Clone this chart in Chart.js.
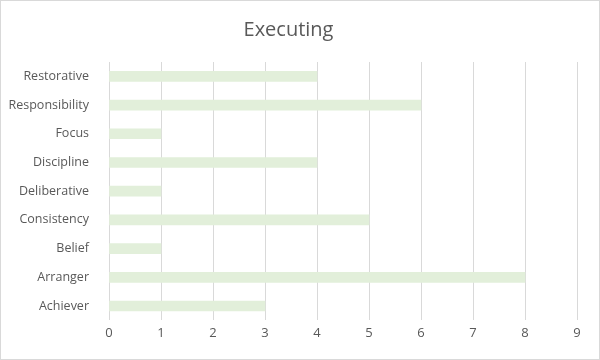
<!DOCTYPE html>
<html>
<head>
<meta charset="utf-8">
<script src="https://cdn.jsdelivr.net/npm/chart.js@4.4.0/dist/chart.umd.min.js"></script>
<style>
  body { margin: 0; background: #fff; }
  #wrap { width: 600px; height: 360px; }
</style>
</head>
<body>
<div id="wrap"><canvas id="chart" width="600" height="360"></canvas></div>
<script>
// data
const categories = ['Restorative', 'Responsibility', 'Focus', 'Discipline', 'Deliberative', 'Consistency', 'Belief', 'Arranger', 'Achiever'];
const counts = [4, 6, 1, 4, 1, 5, 1, 8, 3];
const xTicks = [0, 1, 2, 3, 4, 5, 6, 7, 8, 9];

const frame = {
  id: 'frame',
  beforeDraw(chart) {
    const c = chart.ctx;
    c.save();
    c.fillStyle = '#fff';
    c.fillRect(0, 0, chart.width, chart.height);
    c.strokeStyle = '#d9d9d9';
    c.lineWidth = 1;
    c.strokeRect(0.5, 0.5, chart.width - 1, chart.height - 1);
    c.restore();
  }
};

new Chart(document.getElementById('chart'), {
  type: 'bar',
  data: {
    labels: categories,
    datasets: [{
      data: counts,
      backgroundColor: '#e2efda',
      barThickness: 10
    }]
  },
  plugins: [frame],
  options: {
    indexAxis: 'y',
    responsive: false,
    animation: false,
    layout: { padding: { left: 0, right: 23, top: 18, bottom: 14 } },
    plugins: {
      legend: { display: false },
      tooltip: { enabled: false },
      title: {
        display: true,
        text: 'Executing',
        color: '#595959',
        font: { family: 'Open Sans', size: 20, weight: 'normal' },
        padding: { top: 0, bottom: 20 }
      }
    },
    scales: {
      x: {
        min: 0, max: 9,
        afterBuildTicks(axis) { axis.ticks = xTicks.map(v => ({ value: v })); },
        grid: { color: '#d9d9d9', drawTicks: false },
        border: { display: false },
        ticks: { color: '#595959', padding: 5, font: { family: 'Open Sans', size: 13 } }
      },
      y: {
        afterFit(axis) { axis.width = 109; },
        grid: { display: false },
        border: { display: false },
        ticks: { color: '#595959', padding: 12, font: { family: 'Open Sans', size: 12.5 } }
      }
    }
  }
});
</script>
</body>
</html>
